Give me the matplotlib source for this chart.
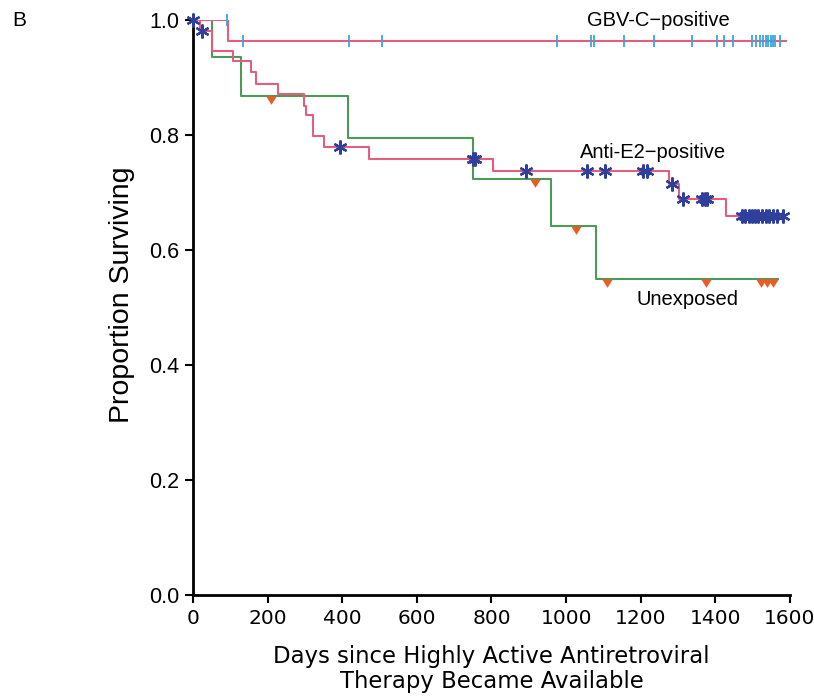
import matplotlib
matplotlib.use("Agg")
import matplotlib.pyplot as plt
from matplotlib.path import Path

# step curves (days, survival)
gbv_days = [0, 94, 1590]
gbv_surv = [1.0, 0.963, 0.963]
gbv_cens_days = [90, 134, 418, 507, 976, 1067, 1075, 1155, 1236, 1338, 1405, 1424, 1448,
                 1499, 1510, 1520, 1528, 1535, 1542, 1548, 1555, 1560, 1574]

e2_days = [0, 20, 50, 107, 155, 169, 228, 298, 303, 321, 351, 472, 803, 1277, 1302, 1429, 1585]
e2_surv = [1.0, 0.981, 0.946, 0.929, 0.910, 0.888, 0.871, 0.850, 0.835, 0.798, 0.779,
           0.759, 0.737, 0.714, 0.688, 0.659, 0.659]
e2_cens_days = [0, 23, 394, 751, 757, 893, 1057, 1105, 1206, 1217, 1283, 1314, 1364, 1371,
                1378, 1471, 1480, 1490, 1498, 1505, 1515, 1525, 1535, 1545, 1555, 1565, 1582]

unexp_days = [0, 50, 129, 415, 750, 959, 1080, 1568]
unexp_surv = [1.0, 0.935, 0.868, 0.795, 0.723, 0.642, 0.549, 0.549]
unexp_cens_days = [208, 917, 1027, 1109, 1375, 1523, 1538, 1554]

xticks = [0, 200, 400, 600, 800, 1000, 1200, 1400, 1600]
yticks = [0.0, 0.2, 0.4, 0.6, 0.8, 1.0]

pink = "#e35d7c"
green = "#4c9a5a"
cyan = "#3aa6e0"
navy = "#2f3f9c"
orange = "#ee5a24"


def surv_at(days, surv, t):
    v = surv[0]
    for d, s in zip(days, surv):
        if d <= t:
            v = s
    return v


narrow = ["Liberation Sans Narrow", "DejaVu Sans"]
plt.rcParams["font.family"] = ["Liberation Sans", "DejaVu Sans"]

fig = plt.figure(figsize=(8.14, 6.98), dpi=100)
ax = fig.add_axes([0.237, 0.1476, 0.7335, 0.8237])

ax.step(unexp_days, unexp_surv, where="post", color=green, lw=1.5, zorder=2)
ax.step(gbv_days, gbv_surv, where="post", color=pink, lw=1.5, zorder=3)
ax.step(e2_days, e2_surv, where="post", color=pink, lw=1.5, zorder=3)

# censoring marks
ax.plot(gbv_cens_days, [surv_at(gbv_days, gbv_surv, d) for d in gbv_cens_days],
        ls="none", marker="|", ms=9, mew=1.3, color=cyan, zorder=4, clip_on=False)
ax.plot(e2_cens_days, [surv_at(e2_days, e2_surv, d) for d in e2_cens_days],
        ls="none", marker=(6, 2, 0), ms=10, mew=1.6, color=navy, zorder=5, clip_on=False)
tri = Path([(-1, 0), (1, 0), (0, -1.6), (-1, 0)], closed=True)
ax.plot(unexp_cens_days, [surv_at(unexp_days, unexp_surv, d) for d in unexp_cens_days],
        ls="none", marker=tri, ms=12, color=orange, mec="none", zorder=4, clip_on=False)

ax.set_xlim(0, 1600)
ax.set_ylim(0, 1.0)
ax.set_xticks(xticks)
ax.set_yticks(yticks)
ax.set_xticklabels([str(t) for t in xticks], family=narrow, fontsize=14.5)
ax.set_yticklabels(["%.1f" % t for t in yticks], fontsize=15.5)
for s in ["top", "right"]:
    ax.spines[s].set_visible(False)
for s in ["left", "bottom"]:
    ax.spines[s].set_linewidth(2)
ax.tick_params(direction="out", length=6, width=1.5, pad=4)

ax.set_ylabel("Proportion Surviving", fontsize=20.5)
ax.yaxis.set_label_coords(-0.097, 0.523)
ax.set_xlabel("Days since Highly Active Antiretroviral\nTherapy Became Available",
              family=narrow, fontsize=16.4, labelpad=12, linespacing=1.15)

ax.text(1056, 1.0, "GBV-C\u2212positive", fontsize=14.5, ha="left", va="center")
ax.text(1037, 0.77, "Anti-E2\u2212positive", fontsize=14.5, ha="left", va="center")
ax.text(1190, 0.514, "Unexposed", fontsize=14.5, ha="left", va="center")
fig.text(0.015, 0.971, "B", fontsize=15, ha="left", va="center")

fig.savefig("out.png", dpi=100)
